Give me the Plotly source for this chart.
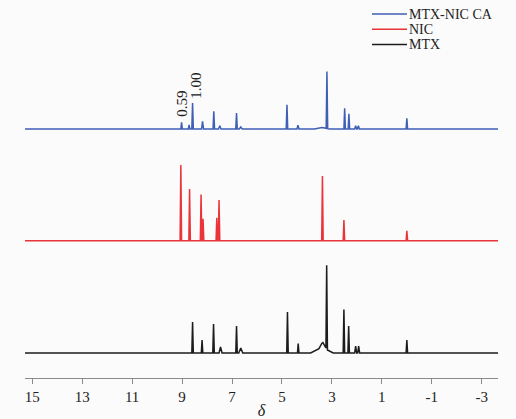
import numpy as np
import plotly.graph_objects as go

# ---- data (chemical shift δ in ppm, relative intensity, half-width in ppm)
x_min, x_max = -3.65, 15.29
tick_vals = [15, 13, 11, 9, 7, 5, 3, 1, -1, -3]
tick_text = ["15", "13", "11", "9", "7", "5", "3", "1", "-1", "-3"]

mtx_shift = [8.58, 8.20, 7.74, 7.46, 6.82, 6.65, 4.78, 4.35, 3.40, 3.36, 3.21, 2.52, 2.33, 2.05, 1.93, 0.00]
mtx_int = [31, 13, 29, 6, 27, 5, 41, 9.5, 6, 5, 84, 43.5, 27, 7, 7, 13]
mtx_width = [0.03, 0.03, 0.03, 0.06, 0.03, 0.08, 0.03, 0.03, 0.45, 0.16, 0.03, 0.03, 0.03, 0.04, 0.04, 0.03]

nic_shift = [9.05, 8.70, 8.24, 8.16, 7.61, 7.52, 3.38, 2.52, 0.00]
nic_int = [75.7, 51.7, 46.3, 22, 23, 40.7, 64.7, 20.7, 10]
nic_width = [0.03, 0.03, 0.03, 0.03, 0.03, 0.03, 0.03, 0.03, 0.03]

ca_shift = [9.02, 8.72, 8.58, 8.18, 7.73, 7.49, 6.82, 6.65, 4.80, 4.36, 3.40, 3.20, 2.49, 2.32, 2.05, 1.94, 0.00]
ca_int = [6.7, 4, 26, 7.7, 17.7, 3.3, 16, 2, 24.3, 3.7, 1.5, 57, 20.7, 15.3, 3.3, 3.3, 10.7]
ca_width = [0.03, 0.03, 0.03, 0.04, 0.03, 0.05, 0.03, 0.06, 0.03, 0.04, 0.3, 0.03, 0.03, 0.03, 0.04, 0.04, 0.03]

series_names = ["MTX-NIC CA", "NIC", "MTX"]
integrals = ["0.59", "1.00"]
integral_shift = [9.01, 8.47]

# ---- styles / layout
colors = {"MTX-NIC CA": "#3f5fb5", "NIC": "#ea3439", "MTX": "#1c1c1c"}
offsets = {"MTX-NIC CA": 224, "NIC": 112.3, "MTX": 0}
FONT = "Liberation Serif"


def spectrum(shift, inten, width):
    pts = [x_min, x_max]
    for c, w in zip(shift, width):
        pts += [c - w, c, c + w]
    xs = np.array(sorted(set(pts)))
    ys = np.zeros_like(xs)
    for c, h, w in zip(shift, inten, width):
        ys += np.interp(xs, [c - w, c, c + w], [0, h, 0])
    return xs, ys


data = {
    "MTX-NIC CA": (ca_shift, ca_int, ca_width),
    "NIC": (nic_shift, nic_int, nic_width),
    "MTX": (mtx_shift, mtx_int, mtx_width),
}

fig = go.Figure()
for name in series_names:
    xs, ys = spectrum(*data[name])
    fig.add_trace(go.Scatter(x=xs, y=ys + offsets[name], mode="lines", name=name,
                             line=dict(color=colors[name], width=1.5), showlegend=False,
                             hoverinfo="skip"))

# integral labels
ca_top = offsets["MTX-NIC CA"]
for txt, sx, dy in zip(integrals, integral_shift, [25, 43.5]):
    fig.add_annotation(x=sx, y=ca_top + dy, text=txt, textangle=-90, showarrow=False,
                       xanchor="center", yanchor="middle",
                       font=dict(family=FONT, size=15, color="#222"))

# manual legend (paper coordinates)
L, R = 25, 498
T, B = 10, 378
def px(xp): return (xp - L) / (R - L)
def py(yp): return (B - yp) / (B - T)

for name, yrow in zip(series_names, [14.0, 29.2, 44.4]):
    fig.add_shape(type="line", xref="paper", yref="paper", x0=px(372), x1=px(407),
                  y0=py(yrow), y1=py(yrow), line=dict(color=colors[name], width=1.5))
    fig.add_annotation(xref="paper", yref="paper", x=px(408), y=py(yrow), text=name,
                       showarrow=False, xanchor="left", yanchor="middle",
                       borderpad=0,
                       font=dict(family=FONT, size=14, color="#222"))

fig.update_layout(
    width=516, height=419,
    margin=dict(l=L, r=516 - R, t=T, b=419 - B, autoexpand=False),
    paper_bgcolor="#fbfbfb", plot_bgcolor="#fbfbfb",
    showlegend=False,
    xaxis=dict(range=[x_max, x_min], tickvals=tick_vals, ticktext=tick_text,
               automargin=False,
               showline=True, linecolor="#8a8a8a", linewidth=1, ticks="outside",
               ticklen=5, tickcolor="#8a8a8a", showgrid=False, zeroline=False,
               tickfont=dict(family=FONT, size=15, color="#222"),
               title=dict(text="<i>δ</i>", font=dict(family=FONT, size=16, color="#222"),
                          standoff=0)),
    yaxis=dict(range=[-25, 343], visible=False, showgrid=False, zeroline=False,
               automargin=False),
)

fig.write_html("out.html")
